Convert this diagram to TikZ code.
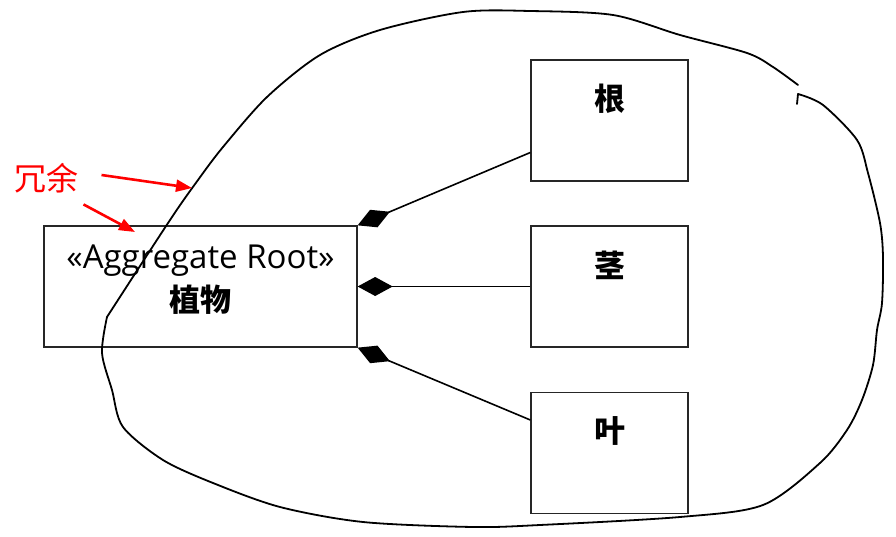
\documentclass[tikz,border=0pt]{standalone}
\usepackage{fontspec}
\setmainfont{Open Sans}
\newfontfamily\cjk{Noto Sans CJK SC}
\usetikzlibrary{arrows.meta}
\tikzset{
  part/.style={draw=black!85,line width=1.3pt,minimum width=157pt,minimum height=121pt,inner sep=0pt},
  cjkb/.style={font=\cjk\bfseries\fontsize{31pt}{31pt}\selectfont},
  comp/.style={line width=1.6pt,{Diamond[length=35pt,width=19pt]}-},
  note/.style={red,line width=2.6pt,-{Triangle[length=16pt,width=12pt]}}
}
\begin{document}
\begin{tikzpicture}[x=1pt,y=-1pt]
\useasboundingbox (0,0) rectangle (896,537);
%caixas
  \node[part,minimum width=313pt,
    label={[font=\fontsize{33pt}{33pt}\selectfont,yshift=26pt]center:«Aggregate Root»},
    label={[cjkb,yshift=-13pt]center:植物}] (root) at (200.5,286.5) {};
  \node[part,label={[cjkb,yshift=22pt]center:根}] (gen) at (609.5,120.5) {};
  \node[part,label={[cjkb,yshift=21pt]center:茎}] (jing) at (609.5,286.5) {};
  \node[part,label={[cjkb,yshift=22pt]center:叶}] (ye) at (609.5,453) {};
%composicao
  \draw[comp] (root.north east) -- ([yshift=-32pt]gen.west);
  \draw[comp] (root.east) -- (jing.west);
  \draw[comp] (root.south east) -- ([yshift=33pt]ye.west);
%fronteira do agregado
  \draw[line width=1.8pt,line cap=round] plot[smooth,tension=0.5] coordinates {
    (798,85) (773,67) (747,53) (680,35) (613,15) (530,11) (463,12)
    (380,30) (320,55) (267,97) (223,147) (198,180) (170,220) (107,317)};
  \draw[line width=1.8pt,line cap=round] plot[smooth,tension=0.5] coordinates {
    (107,317) (102,353) (112,390) (123,427) (163,460) (213,483) (280,507) (363,522)
    (473,527) (540,525) (680,517) (763,505) (820,463) (847,430) (862,400) (873,365)
    (877,330) (882,303) (883,257) (880,223) (868,173) (857,140) (823,105) (798,94)};
  \draw[line width=1.8pt,line cap=round] (798,94) -- (797,104);
%rotulos
  \node[red,font=\cjk\fontsize{32pt}{32pt}\selectfont] (redund) at (46,178) {冗余};
  \coordinate (c1) at (192,188);
  \coordinate (c2) at (135,232);
  \draw[note] (redund.east) ++(20,-3) -- (c1);
  \draw[note] (redund.south east) ++(2,8) -- (c2);
\end{tikzpicture}
\end{document}
